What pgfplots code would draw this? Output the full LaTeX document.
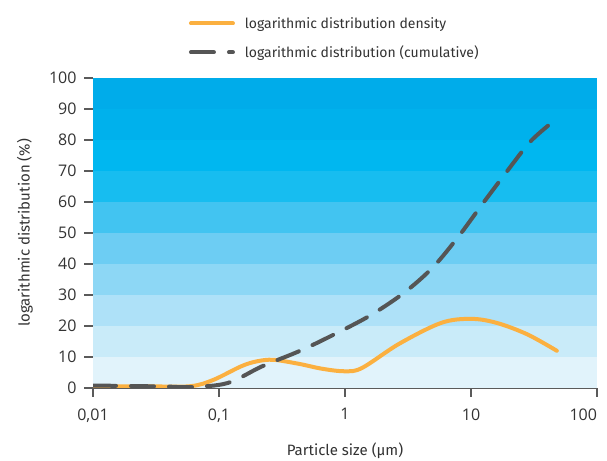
\documentclass[border=0pt]{standalone}
\usepackage{fontspec}
\setmainfont{Fira Sans}
\newfontfamily\tickfont{Open Sans}
\usepackage{pgfplots}
\pgfplotsset{compat=1.18}
\definecolor{orangeL}{HTML}{FBB040}
\definecolor{dashG}{HTML}{555555}
\definecolor{axG}{HTML}{5A5A5A}
\definecolor{txt}{HTML}{333333}
\definecolor{b0}{HTML}{E1F3FB}
\definecolor{b1}{HTML}{C9EBF9}
\definecolor{b2}{HTML}{AEE1F8}
\definecolor{b3}{HTML}{8DD7F5}
\definecolor{b4}{HTML}{6DCDF3}
\definecolor{b5}{HTML}{42C4F1}
\definecolor{b6}{HTML}{17BDF0}
\definecolor{b7}{HTML}{00B7F0}
\definecolor{b8}{HTML}{00B1EC}
\definecolor{b9}{HTML}{00ACEA}
\begin{document}
\begin{tikzpicture}
\begin{axis}[
  set layers,
  scale only axis, width=504bp, height=310bp,
  xmode=log, xmin=0.01, xmax=100, ymin=0, ymax=100,
  xtick={0.01,0.1,1,10,100},
  xticklabels={0{,}01,0{,}1,1,10,\makebox[0pt][r]{100}},
  xminorticks=false,
  ytick={0,10,...,100},
  tick align=outside, major tick length=9bp,
  tick style={draw=axG, line width=1.5bp},
  axis x line*=bottom, axis y line*=left,
  y axis line style={draw=none},
  x axis line style={draw=axG, line width=2bp},
  /pgf/number format/assume math mode=true,
  ticklabel style={font=\tickfont\fontsize{16bp}{19bp}\selectfont, text=txt},
  yticklabel style={xshift=-4bp},
  xticklabel style={yshift=-8bp},
  xlabel={Particle size (µm)},
  ylabel={logarithmic distribution (\%)},
  label style={font=\fontsize{15bp}{17bp}\selectfont, text=txt},
  xlabel style={at={(axis description cs:0.5,0)}, anchor=center, yshift=-63bp},
  ylabel style={at={(axis description cs:-0.135,0.5)}, anchor=center},
  legend style={at={(axis description cs:0.19,1.203)}, anchor=north west,
    draw=none, fill=none, inner sep=0pt, row sep=12bp, column sep=6bp,
    font=\fontsize{14bp}{16bp}\selectfont, text=txt,
    nodes={inner xsep=4bp}},
  legend cell align=left,
  legend image code/.code={\draw[#1] (0bp,0bp) -- (42bp,0bp);},
]
\fill[on layer=axis background, b0] (rel axis cs:0,0) rectangle (rel axis cs:1,0.1);
\fill[on layer=axis background, b1] (rel axis cs:0,0.1) rectangle (rel axis cs:1,0.2);
\fill[on layer=axis background, b2] (rel axis cs:0,0.2) rectangle (rel axis cs:1,0.3);
\fill[on layer=axis background, b3] (rel axis cs:0,0.3) rectangle (rel axis cs:1,0.4);
\fill[on layer=axis background, b4] (rel axis cs:0,0.4) rectangle (rel axis cs:1,0.5);
\fill[on layer=axis background, b5] (rel axis cs:0,0.5) rectangle (rel axis cs:1,0.6);
\fill[on layer=axis background, b6] (rel axis cs:0,0.6) rectangle (rel axis cs:1,0.7);
\fill[on layer=axis background, b7] (rel axis cs:0,0.7) rectangle (rel axis cs:1,0.8);
\fill[on layer=axis background, b8] (rel axis cs:0,0.8) rectangle (rel axis cs:1,0.9);
\fill[on layer=axis background, b9] (rel axis cs:0,0.9) rectangle (rel axis cs:1,1);

\addplot[orangeL, line width=4bp, smooth, tension=0.55, line cap=round] coordinates {
 (0.01,0.5) (0.03,0.5) (0.06,0.6) (0.09,2.6) (0.15,7) (0.2,8.6) (0.27,9.1)
 (0.43,7.8) (0.66,6.2) (1,5.4) (1.37,6.5) (2.7,14.3) (5.8,21) (10,22.3)
 (16,21) (28,17.3) (48,12)};
\addlegendentry{logarithmic distribution density}

\addplot[dashG, line width=4bp, smooth, tension=0.55, line cap=round,
  dash pattern=on 23bp off 15bp] coordinates {
 (0.01,0.8) (0.035,0.5) (0.06,0.3) (0.117,1.6) (0.22,7) (0.44,12) (0.84,17.5)
 (1.6,23.5) (2.96,30.8) (5,39) (8,49) (12.5,59.7) (19.4,70) (29.6,79.5) (44.4,85.8)};
\addlegendentry{logarithmic distribution (cumulative)}
\end{axis}
\pgfresetboundingbox
\path[use as bounding box] (current axis.south west) ++(-93bp,-73bp) rectangle ++(607bp,461bp);
\end{tikzpicture}
\end{document}
